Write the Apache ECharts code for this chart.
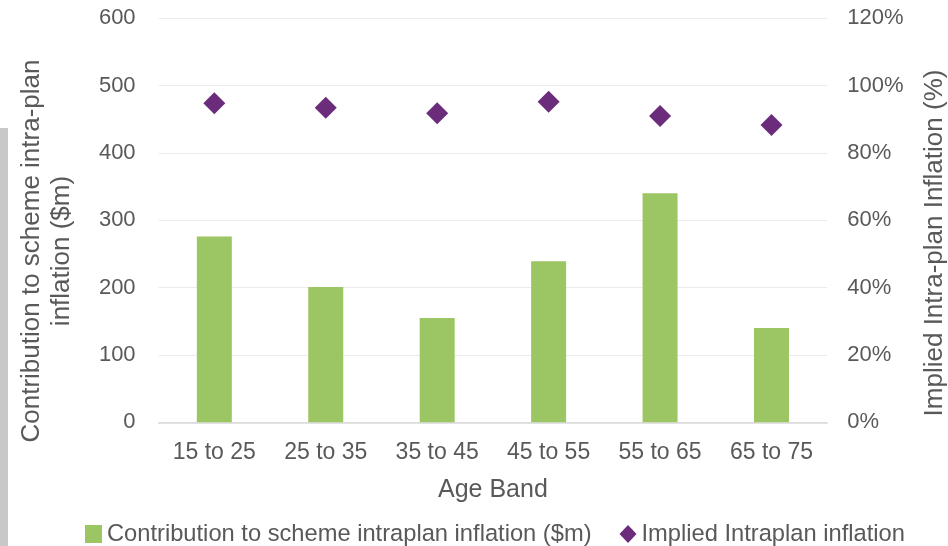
<!DOCTYPE html>
<html>
<head>
<meta charset="utf-8">
<script src="https://cdn.jsdelivr.net/npm/echarts@6/dist/echarts.min.js"></script>
<style>html,body{margin:0;padding:0;background:#fff}#c{width:948px;height:546px}</style>
</head>
<body>
<div id="c"></div>
<script>
var categories = ['15 to 25', '25 to 35', '35 to 45', '45 to 55', '55 to 65', '65 to 75'];
var contribution = [276, 201, 155, 239, 340, 140];
var impliedInflation = [94.8, 93.4, 91.8, 95.2, 91.0, 88.3];
var leftTicks = [0, 100, 200, 300, 400, 500, 600];
var rightTicks = [0, 20, 40, 60, 80, 100, 120];

var FONT = '"Liberation Sans", Arial, sans-serif';
var TXT = '#595959';
var chart = echarts.init(document.getElementById('c'), null, {renderer: 'canvas'});
chart.setOption({
  animation: false,
  backgroundColor: '#ffffff',
  grid: {left: 158.6, right: 120.8, top: 18.3, bottom: 123.7, containLabel: false},
  legend: {
    left: 80, top: 517, itemWidth: 17, itemHeight: 18, itemGap: 28,
    textStyle: {fontFamily: FONT, fontSize: 23.7, color: TXT},
    data: [
      {name: 'Contribution to scheme intraplan inflation ($m)', icon: 'rect', itemStyle: {}},
      {name: 'Implied Intraplan inflation', icon: 'diamond'}
    ]
  },
  xAxis: {
    type: 'category', data: categories,
    name: 'Age Band', nameLocation: 'middle', nameGap: 55,
    nameTextStyle: {fontFamily: FONT, fontSize: 25, color: TXT},
    axisLine: {lineStyle: {color: '#d9d9d9', width: 1.5}},
    axisTick: {show: false},
    axisLabel: {fontFamily: FONT, fontSize: 23, color: TXT, margin: 19}
  },
  yAxis: [{
    type: 'value', min: leftTicks[0], max: leftTicks[leftTicks.length - 1], interval: 100,
    axisLine: {show: false}, axisTick: {show: false},
    axisLabel: {fontFamily: FONT, fontSize: 22, color: TXT, margin: 23},
    splitLine: {lineStyle: {color: '#ebebeb', width: 1}}
  }, {
    type: 'value', min: rightTicks[0], max: rightTicks[rightTicks.length - 1], interval: 20,
    axisLine: {show: false}, axisTick: {show: false},
    axisLabel: {fontFamily: FONT, fontSize: 22, color: TXT, margin: 20, formatter: '{value}%'},
    splitLine: {show: false}
  }],
  series: [{
    name: 'Contribution to scheme intraplan inflation ($m)',
    type: 'bar', data: contribution, yAxisIndex: 0,
    barWidth: '31.4%',
    itemStyle: {color: '#9cc563'}
  }, {
    name: 'Implied Intraplan inflation',
    type: 'scatter', data: impliedInflation, yAxisIndex: 1,
    symbol: 'diamond', symbolSize: [22, 22],
    itemStyle: {color: '#6b2c7b', opacity: 1}
  }],
  graphic: [
    {type: 'rect', left: 0, top: 128, shape: {width: 8, height: 418}, style: {fill: '#c8c8c8'}},
    {type: 'text', x: 47, y: 251, rotation: Math.PI / 2,
      style: {text: 'Contribution to scheme intra-plan\ninflation ($m)', align: 'center', verticalAlign: 'middle',
        font: '26px ' + FONT, fill: TXT, lineHeight: 30}},
    {type: 'text', x: 935, y: 243, rotation: Math.PI / 2,
      style: {text: 'Implied Intra-plan Inflation (%)', align: 'center', verticalAlign: 'middle',
        font: '26px ' + FONT, fill: TXT}}
  ]
});
</script>
</body>
</html>
